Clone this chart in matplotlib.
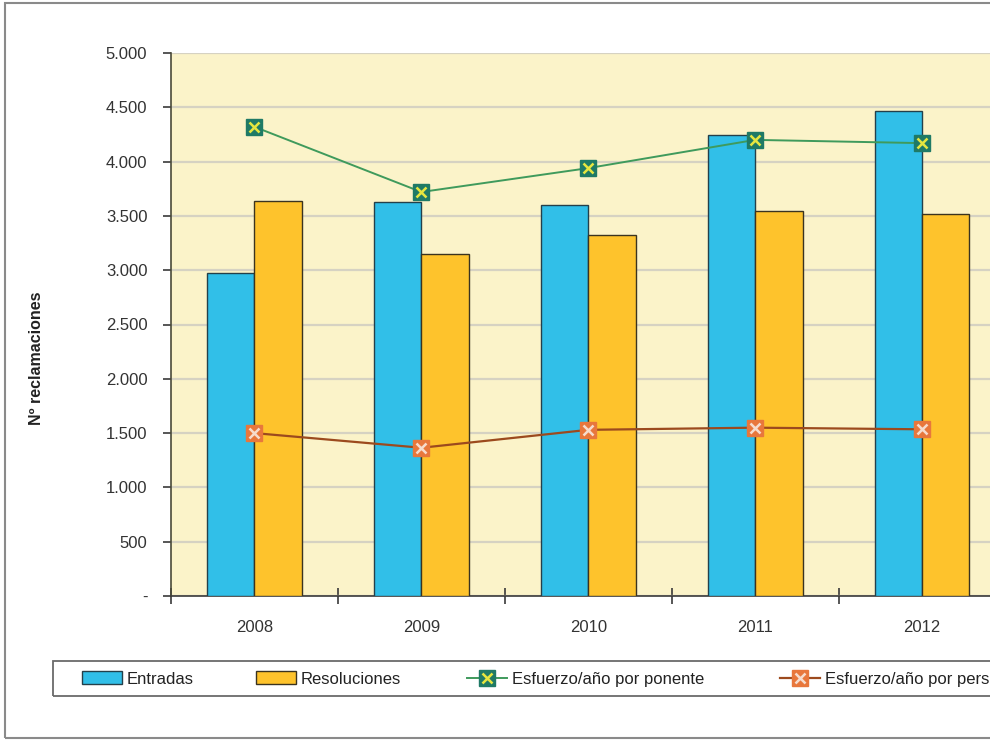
import matplotlib
matplotlib.use("Agg")
import matplotlib.pyplot as plt
from matplotlib.patches import Rectangle, Patch
from matplotlib.lines import Line2D
from matplotlib.ticker import FuncFormatter, FixedLocator

plt.rcParams['font.family'] = ['Liberation Sans', 'DejaVu Sans']

years = ['2008', '2009', '2010', '2011', '2012']
entradas = [2970, 3625, 3600, 4245, 4466]
resoluciones = [3640, 3145, 3320, 3545, 3520]
esf_ponente = [4320, 3720, 3940, 4200, 4170]
esf_personal = [1500, 1365, 1530, 1550, 1535]
series_names = ['Entradas', 'Resoluciones', 'Esfuerzo/año por ponente',
                'Esfuerzo/año por personal']

W, H = 990, 742
fig = plt.figure(figsize=(W / 100, H / 100), dpi=100)

# outer frame
fig.patches.append(Rectangle((5 / W, 1 - 738 / H), 1.2, (738 - 3) / H,
                             transform=fig.transFigure, fill=False,
                             edgecolor='#8a8a8a', linewidth=1.5))

ax = fig.add_axes([171 / W, 1 - 596 / H, (1005.5 - 171) / W, (596 - 53) / H])
ax.set_facecolor('#fbf3c9')

x = list(range(len(years)))
bw = 0.284
ax.bar([i - bw / 2 for i in x], entradas, bw, color='#31bfe8',
       edgecolor='#24404a', linewidth=1.0, zorder=3)
ax.bar([i + bw / 2 for i in x], resoluciones, bw, color='#fec32c',
       edgecolor='#3a3320', linewidth=1.0, zorder=3)

ax.plot(x, esf_ponente, color='#3f9a5c', linewidth=1.4, zorder=4)
ax.plot(x, esf_ponente, linestyle='none', marker='s', markersize=11,
        markerfacecolor='#1f7a66', markeredgecolor='#1f7a66', zorder=5)
ax.plot(x, esf_ponente, linestyle='none', marker='x', markersize=7,
        markeredgecolor='#e6e640', markeredgewidth=1.8, zorder=6)

ax.plot(x, esf_personal, color='#9c4a1e', linewidth=1.6, zorder=4)
ax.plot(x, esf_personal, linestyle='none', marker='s', markersize=11,
        markerfacecolor='#e8773c', markeredgecolor='#e8773c', zorder=5)
ax.plot(x, esf_personal, linestyle='none', marker='x', markersize=7,
        markeredgecolor='#f6dccd', markeredgewidth=1.8, zorder=6)

ax.set_xlim(-0.5, 4.5)
ax.set_ylim(0, 5000)
ax.yaxis.set_major_locator(FixedLocator(range(0, 5001, 500)))


def fmt(v, pos):
    v = int(round(v))
    if v == 0:
        return '-'
    return f'{v:,}'.replace(',', '.')


ax.yaxis.set_major_formatter(FuncFormatter(fmt))
ax.grid(axis='y', color='#d6d2c2', linewidth=1.6, zorder=0)

ax.set_xticks([i - 0.5 for i in range(6)])
ax.set_xticklabels([])
ax.set_xticks(x, minor=True)
ax.set_xticklabels(years, minor=True)
ax.tick_params(axis='x', which='major', direction='inout', length=12,
               width=1.2, color='#3a3a3a')
ax.tick_params(axis='x', which='minor', length=0, pad=17, labelsize=12,
               labelcolor='#333333')
ax.tick_params(axis='y', direction='out', length=6, width=1.2,
               color='#3a3a3a', pad=11, labelsize=12, labelcolor='#333333')

for s in ['top', 'right']:
    ax.spines[s].set_visible(False)
ax.spines['left'].set_color('#4a4a3a')
ax.spines['bottom'].set_color('#3a3a3a')
ax.spines['left'].set_linewidth(1.2)
ax.spines['bottom'].set_linewidth(1.2)

fig.text(37 / W, 1 - 358 / H, 'Nº reclamaciones', rotation=90,
         ha='center', va='center', fontsize=11.5, fontweight='bold',
         color='#222222')

# legend box
fig.patches.append(Rectangle((53 / W, 1 - 696 / H), 1.2, (696 - 661) / H,
                             transform=fig.transFigure, fill=False,
                             edgecolor='#6a6a6a', linewidth=1.3))

h_ent = Patch(facecolor='#31bfe8', edgecolor='#24404a', linewidth=1.0)
h_res = Patch(facecolor='#fec32c', edgecolor='#3a3320', linewidth=1.0)
h_pon = (Line2D([], [], color='#3f9a5c', linewidth=1.4, marker='s',
                markersize=11, markerfacecolor='#1f7a66',
                markeredgecolor='#1f7a66'),
         Line2D([], [], linestyle='none', marker='x', markersize=7,
                markeredgecolor='#e6e640', markeredgewidth=1.8))
h_per = (Line2D([], [], color='#9c4a1e', linewidth=1.6, marker='s',
                markersize=11, markerfacecolor='#e8773c',
                markeredgecolor='#e8773c'),
         Line2D([], [], linestyle='none', marker='x', markersize=7,
                markeredgecolor='#f6dccd', markeredgewidth=1.8))

handles = [h_ent, h_res, h_pon, h_per]
starts = [82, 256, 467, 780]
for h, name, sx in zip(handles, series_names, starts):
    fig.legend([h], [name], loc='center left',
               bbox_to_anchor=(sx / W, 1 - 679 / H),
               frameon=False, fontsize=12, handlelength=2.4,
               handleheight=0.8, handletextpad=0.3,
               borderpad=0, borderaxespad=0, labelcolor='#222222')

fig.savefig('out.png', dpi=100, facecolor='white')
